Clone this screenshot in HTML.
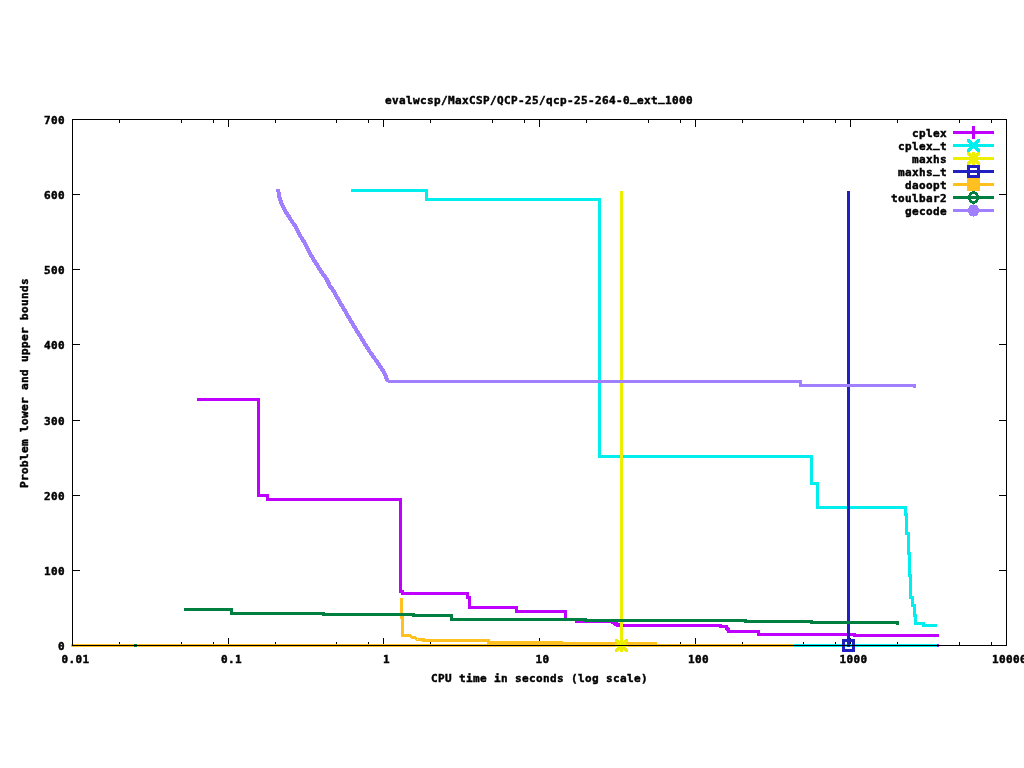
<!DOCTYPE html>
<html lang="en"><head><meta charset="utf-8"><title>evalwcsp/MaxCSP/QCP-25/qcp-25-264-0_ext_1000</title>
<style>html,body{margin:0;padding:0;background:#fff;overflow:hidden}svg{display:block}text{font-family:"DejaVu Sans Mono","Liberation Mono",monospace;font-weight:bold;font-size:11px;letter-spacing:0.377px;fill:#000;stroke:#000;stroke-width:0.45px;white-space:pre}.s{fill:none;stroke-width:3;stroke-linejoin:miter;stroke-linecap:butt}</style></head><body>
<svg width="1024" height="768" viewBox="0 0 1024 768">
<rect width="1024" height="768" fill="#ffffff"/>
<g shape-rendering="crispEdges" fill="#000">
<rect x="72" y="645" width="8" height="1"/>
<rect x="999" y="645" width="8" height="1"/>
<rect x="72" y="570" width="8" height="1"/>
<rect x="999" y="570" width="8" height="1"/>
<rect x="72" y="495" width="8" height="1"/>
<rect x="999" y="495" width="8" height="1"/>
<rect x="72" y="420" width="8" height="1"/>
<rect x="999" y="420" width="8" height="1"/>
<rect x="72" y="344" width="8" height="1"/>
<rect x="999" y="344" width="8" height="1"/>
<rect x="72" y="269" width="8" height="1"/>
<rect x="999" y="269" width="8" height="1"/>
<rect x="72" y="194" width="8" height="1"/>
<rect x="999" y="194" width="8" height="1"/>
<rect x="72" y="119" width="8" height="1"/>
<rect x="999" y="119" width="8" height="1"/>
<rect x="72" y="119" width="1" height="8"/>
<rect x="72" y="638" width="1" height="8"/>
<rect x="119" y="119" width="1" height="4"/>
<rect x="119" y="642" width="1" height="4"/>
<rect x="181" y="119" width="1" height="4"/>
<rect x="181" y="642" width="1" height="4"/>
<rect x="213" y="119" width="1" height="4"/>
<rect x="213" y="642" width="1" height="4"/>
<rect x="228" y="119" width="1" height="8"/>
<rect x="228" y="638" width="1" height="8"/>
<rect x="275" y="119" width="1" height="4"/>
<rect x="275" y="642" width="1" height="4"/>
<rect x="336" y="119" width="1" height="4"/>
<rect x="336" y="642" width="1" height="4"/>
<rect x="368" y="119" width="1" height="4"/>
<rect x="368" y="642" width="1" height="4"/>
<rect x="383" y="119" width="1" height="8"/>
<rect x="383" y="638" width="1" height="8"/>
<rect x="430" y="119" width="1" height="4"/>
<rect x="430" y="642" width="1" height="4"/>
<rect x="492" y="119" width="1" height="4"/>
<rect x="492" y="642" width="1" height="4"/>
<rect x="524" y="119" width="1" height="4"/>
<rect x="524" y="642" width="1" height="4"/>
<rect x="539" y="119" width="1" height="8"/>
<rect x="539" y="638" width="1" height="8"/>
<rect x="586" y="119" width="1" height="4"/>
<rect x="586" y="642" width="1" height="4"/>
<rect x="648" y="119" width="1" height="4"/>
<rect x="648" y="642" width="1" height="4"/>
<rect x="680" y="119" width="1" height="4"/>
<rect x="680" y="642" width="1" height="4"/>
<rect x="695" y="119" width="1" height="8"/>
<rect x="695" y="638" width="1" height="8"/>
<rect x="742" y="119" width="1" height="4"/>
<rect x="742" y="642" width="1" height="4"/>
<rect x="803" y="119" width="1" height="4"/>
<rect x="803" y="642" width="1" height="4"/>
<rect x="835" y="119" width="1" height="4"/>
<rect x="835" y="642" width="1" height="4"/>
<rect x="850" y="119" width="1" height="8"/>
<rect x="850" y="638" width="1" height="8"/>
<rect x="897" y="119" width="1" height="4"/>
<rect x="897" y="642" width="1" height="4"/>
<rect x="959" y="119" width="1" height="4"/>
<rect x="959" y="642" width="1" height="4"/>
<rect x="991" y="119" width="1" height="4"/>
<rect x="991" y="642" width="1" height="4"/>
<rect x="1006" y="119" width="1" height="8"/>
<rect x="1006" y="638" width="1" height="8"/>
</g>
<g shape-rendering="crispEdges" class="s">
<path stroke="#c000ff" d="M197,399.5 L258.5,399.5 L258.5,495.5 L267.5,495.5 L267.5,499.5 L400.5,499.5 L400.5,591 L402,591 L402,593.5 L467.5,593.5 L467.5,597.5 L469.5,597.5 L469.5,607.5 L516.5,607.5 L516.5,611.5 L565.5,611.5 L565.5,619.5 L576.5,619.5 L576.5,621.5 L612,621.5 L618.5,625.5 L720.5,625.5 L720.5,626.5 L725.5,626.5 L728.5,631.5 L758.5,631.5 L758.5,634.5 L854.5,634.5 L854.5,635.5 L939,635.5"/>
<path stroke="#c000ff" d="M197,645.5 L939,645.5"/>
<polygon fill="#c000ff" stroke="none" points="610,620 614,620 621,624 621,627 617,627 610,623"/>
<polygon fill="#c000ff" stroke="none" points="724.5,625 727.5,625 730.5,630 730.5,633 727.5,633 724.5,628"/>
<path stroke="#00eeee" d="M351,190.5 L426.5,190.5 L426.5,199.5 L599.5,199.5 L599.5,456.5 L811.5,456.5 L811.5,483.5 L817.5,483.5 L817.5,507.5 L905.5,507.5 L905.5,514 L906.5,514 L906.5,533 L908.5,533 L908.5,553 L909.5,553 L909.5,575 L910.5,575 L910.5,597 L912.5,597 L912.5,605 L914.5,605 L914.5,615 L915.5,615 L915.5,623.5 L923,623.5 L923,625.5 L937,625.5"/>
<path stroke="#00eeee" d="M351,645.5 L937,645.5"/>
<path stroke="#eeee00" d="M621.5,191 L621.5,647"/>
<path stroke="#2020c0" d="M848.5,191 L848.5,647"/>
<path stroke="#ffc020" d="M401.5,598 L401.5,617 L402.5,617 L402.5,635.5 L410,635.5 L412,637.5 L414.5,637.5 L417.5,639.5 L423.5,639.5 L423.5,640.5 L488,640.5 L488,642.5 L561.5,642.5 L561.5,643.5 L657,643.5"/>
<path stroke="#ffc020" d="M71,645.5 L794,645.5"/>
<path stroke="#008040" d="M184,609.5 L231.5,609.5 L231.5,613.5 L323.5,613.5 L323.5,614.5 L413.5,614.5 L413.5,615.5 L451.5,615.5 L451.5,619.5 L585.5,619.5 L585.5,620.5 L745.5,620.5 L745.5,621.5 L811.5,621.5 L811.5,622.5 L897,622.5 L897,623.5 L899,623.5"/>
<rect x="134" y="644" width="3" height="3" fill="#008040" stroke="none"/>
<path stroke="#a080ff" stroke-width="4.1" d="M278.1,189 L279,195.6 L280.9,201.9 L284,208.9 L287.9,215.2 L291.9,221.4 L295.8,226.9 L299.6,234.7 L304.35,242.5 L308.3,250.3 L312.2,257.3 L316.85,264.4 L321.5,272.2 L326.2,278.4 L330.1,286.25 L334,291.7 L338.6,300 L347.5,315.2 L355.4,328.4 L363,340.9 L369.35,351.1 L377.2,362 L383.4,371.4 L388.1,381.5"/>
<path stroke="#a080ff" d="M387.5,381.5 L800.5,381.5 L800.5,385.5 L916,385.5"/>
<rect x="913" y="385" width="3" height="3" fill="#a080ff" stroke="none"/>
</g>
<g shape-rendering="crispEdges">
<path class="s" stroke="#eeee00" d="M615.0,645.5 H628.0 M621.5,639.0 V652.0"/><polygon fill="#eeee00" points="615,639 617.9,639 628,649.1 628,652 625.1,652 615,641.9"/><polygon fill="#eeee00" points="628,639 625.1,639 615,649.1 615,652 617.9,652 628,641.9"/>
<rect class="s" stroke="#2020c0" x="843.5" y="640.5" width="10" height="10"/>
</g>
<rect x="72.5" y="119.5" width="934" height="526" fill="none" stroke="#000" stroke-width="1" shape-rendering="crispEdges"/>
<g shape-rendering="crispEdges">
<path class="s" stroke="#c000ff" d="M953,132.5 H994"/>
<path class="s" stroke="#c000ff" d="M967.0,132.5 H980.0 M973.5,126.0 V139.0"/>
<path class="s" stroke="#00eeee" d="M953,145.5 H994"/>
<polygon fill="#00eeee" points="967,139 969.9,139 980,149.1 980,152 977.1,152 967,141.9"/><polygon fill="#00eeee" points="980,139 977.1,139 967,149.1 967,152 969.9,152 980,141.9"/>
<path class="s" stroke="#eeee00" d="M953,158.5 H994"/>
<path class="s" stroke="#eeee00" d="M967.0,158.5 H980.0 M973.5,152.0 V165.0"/><polygon fill="#eeee00" points="967,152 969.9,152 980,162.1 980,165 977.1,165 967,154.9"/><polygon fill="#eeee00" points="980,152 977.1,152 967,162.1 967,165 969.9,165 980,154.9"/>
<path class="s" stroke="#2020c0" d="M953,171.5 H994"/>
<rect class="s" stroke="#2020c0" x="968.5" y="166.5" width="10" height="10"/>
<path class="s" stroke="#ffc020" d="M953,184.5 H994"/>
<rect fill="#ffc020" x="967.0" y="178.0" width="13" height="13"/>
<path class="s" stroke="#008040" d="M953,197.5 H994"/>
<ellipse class="s" stroke="#008040" cx="973.5" cy="197.5" rx="4" ry="4.8" stroke-width="4.4"/>
<path class="s" stroke="#a080ff" d="M953,210.5 H994"/>
<ellipse fill="#a080ff" cx="973.5" cy="210.5" rx="5.7" ry="6.2"/>
</g>
<g>
<text x="912" y="137">cplex</text>
<text x="898" y="150">cplex<tspan dy="-2.6">_</tspan><tspan dy="2.6">t</tspan></text>
<text x="912" y="163">maxhs</text>
<text x="898" y="176">maxhs<tspan dy="-2.6">_</tspan><tspan dy="2.6">t</tspan></text>
<text x="905" y="189">daoopt</text>
<text x="891" y="202">toulbar2</text>
<text x="905" y="215">gecode</text>
</g>
<g>
<text x="385" y="104">evalwcsp/MaxCSP/QCP-25/qcp-25-264-0<tspan dy="-2.6">_</tspan><tspan dy="2.6">ext</tspan><tspan dy="-2.6">_</tspan><tspan dy="2.6">1000</tspan></text>
<text x="431" y="682">CPU time in seconds (log scale)</text>
<text transform="translate(28,488) rotate(-90)" x="0" y="0">Problem lower and upper bounds</text>
<text x="58" y="650">0</text>
<text x="44" y="575">100</text>
<text x="44" y="500">200</text>
<text x="44" y="425">300</text>
<text x="44" y="349">400</text>
<text x="44" y="274">500</text>
<text x="44" y="199">600</text>
<text x="44" y="124">700</text>
<text x="61.4" y="663">0.01</text>
<text x="220.9" y="663">0.1</text>
<text x="382.9" y="663">1</text>
<text x="535.4" y="663">10</text>
<text x="687.9" y="663">100</text>
<text x="839.4" y="663">1000</text>
<text x="991.9" y="663">10000</text>
</g>
</svg></body></html>
